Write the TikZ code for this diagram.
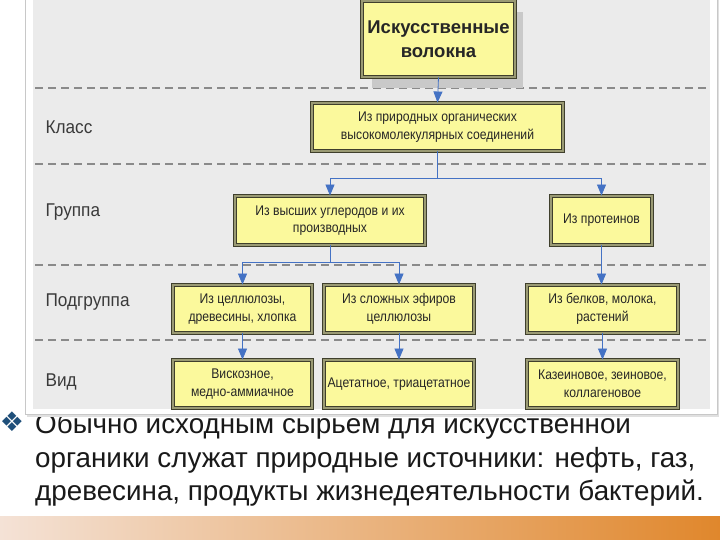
\documentclass[tikz,border=0pt]{standalone}
\usepackage{fontspec}
\setmainfont{Liberation Sans}
\newfontfamily\boxfont[FakeStretch=0.87]{Liberation Sans}
\newfontfamily\labfont[FakeStretch=0.93]{Liberation Sans}
\newfontfamily\symfont{DejaVu Sans}
\usetikzlibrary{arrows.meta,calc}
\definecolor{panelc}{HTML}{EBEBEB}
\definecolor{framec}{HTML}{C8C8C8}
\definecolor{boxfill}{HTML}{FBF99C}
\definecolor{boxline}{HTML}{3F3F2C}
\definecolor{boxgap}{HTML}{9A9A74}
\definecolor{conncol}{HTML}{4472C4}
\definecolor{dashcol}{HTML}{8A8A8A}
\definecolor{labcol}{HTML}{3A3A3A}
\definecolor{band1}{HTML}{F4E2D6}
\definecolor{band2}{HTML}{E0872C}
\definecolor{bulletc}{HTML}{1F4F7A}
\definecolor{shadowc}{HTML}{C9C9C9}
\tikzset{
  ybox/.style={draw=boxline, line width=0.9pt, double=boxgap, double distance=1.6pt,
    fill=boxfill, align=center, inner sep=1pt, text=black!85,
    font=\boxfont\fontsize{14}{17.5}\selectfont},
  conn/.style={draw=conncol, line width=0.8pt, -{Triangle[length=11pt,width=9pt]}},
  bus/.style={draw=conncol, line width=0.8pt},
  sep/.style={draw=dashcol, line width=1.6pt, dash pattern=on 8pt off 5pt},
  rowlab/.style={anchor=west, text=labcol, font=\labfont\fontsize{18.5}{22}\selectfont},
  body/.style={anchor=base west, inner sep=0pt, text=black!90, font=\fontsize{27.8}{33}\selectfont}
}
\begin{document}
\begin{tikzpicture}[x=1pt,y=-1pt]
\useasboundingbox (0,0) rectangle (720,540);
\fill[white] (0,0) rectangle (720,540);
% bottom band
\shade[left color=band1, right color=band2] (0,516) rectangle (720,540);
% bottom text
\node[anchor=center, inner sep=0pt, text=bulletc, font=\symfont\fontsize{27}{27}\selectfont] (bul) at (12,422) {❖};
\node[body] (t1) at (35,433) {Обычно исходным сырьем для искусственной};
\node[body] (t2) at (35,467) {органики служат природные источники: нефть, газ,};
\node[body] (t3) at (35,500) {древесина, продукты жизнедеятельности бактерий.};
% panel
\fill[black!12] (27,-5) rectangle (719,417);
\draw[framec, fill=white] (25,-5) rectangle (717,414);
\fill[panelc] (33,0) rectangle (710,409);
% separators
\foreach \yy in {88,164,265,340} \draw[sep] (35,\yy) -- (710,\yy);
% row labels
\node[rowlab] (lk) at (42,127) {Класс};
\node[rowlab] (lg) at (42,212) {Группа};
\node[rowlab] (lp) at (42,302) {Подгруппа};
\node[rowlab] (lv) at (42,382) {Вид};
% top box with shadow
\fill[shadowc] (372,12) rectangle (523,88);
\node[ybox, minimum width=153pt, minimum height=76pt,
  font=\bfseries\fontsize{18.5}{24}\selectfont] (top) at (438.5,39) {Искусственные\\волокна};
% class
\node[ybox, minimum width=251pt, minimum height=48pt] (cls) at (437.5,127)
  {Из природных органических\\высокомолекулярных соединений};
% groups
\node[ybox, minimum width=190pt, minimum height=49pt] (g1) at (330,220.5)
  {Из высших углеродов и их\\производных};
\node[ybox, minimum width=101pt, minimum height=49pt] (g2) at (601.5,220.5)
  {Из протеинов};
% subgroups
\node[ybox, minimum width=139pt, minimum height=48pt] (sa) at (242.5,309)
  {Из целлюлозы,\\древесины, хлопка};
\node[ybox, minimum width=150pt, minimum height=48pt] (sb) at (399,309)
  {Из сложных эфиров\\целлюлозы};
\node[ybox, minimum width=151pt, minimum height=48pt] (sc) at (602.5,309)
  {Из белков, молока,\\растений};
% kinds
\node[ybox, minimum width=139pt, minimum height=48pt] (va) at (242.5,384)
  {Вискозное,\\медно-аммиачное};
\node[ybox, minimum width=150pt, minimum height=48pt] (vb) at (399,384)
  {Ацетатное, триацетатное};
\node[ybox, minimum width=151pt, minimum height=48pt] (vc) at (602.5,384)
  {Казеиновое, зеиновое,\\коллагеновое};
% connectors
\draw[conn] (top.south) -- (cls.north);
\coordinate (b1) at (437.5,178);
\draw[bus] (cls.south) -- (b1);
\draw[conn] (b1) -| (g1.north);
\draw[conn] (b1) -| (g2.north);
\coordinate (b2) at (330,262);
\draw[bus] (g1.south) -- (b2);
\draw[conn] (b2) -| (sa.north);
\draw[conn] (b2) -| (sb.north);
\draw[conn] (g2.south) -- (g2.south |- sc.north);
\draw[conn] (sa.south) -- (va.north);
\draw[conn] (sb.south) -- (vb.north);
\draw[conn] (sc.south) -- (vc.north);
\end{tikzpicture}
\end{document}
